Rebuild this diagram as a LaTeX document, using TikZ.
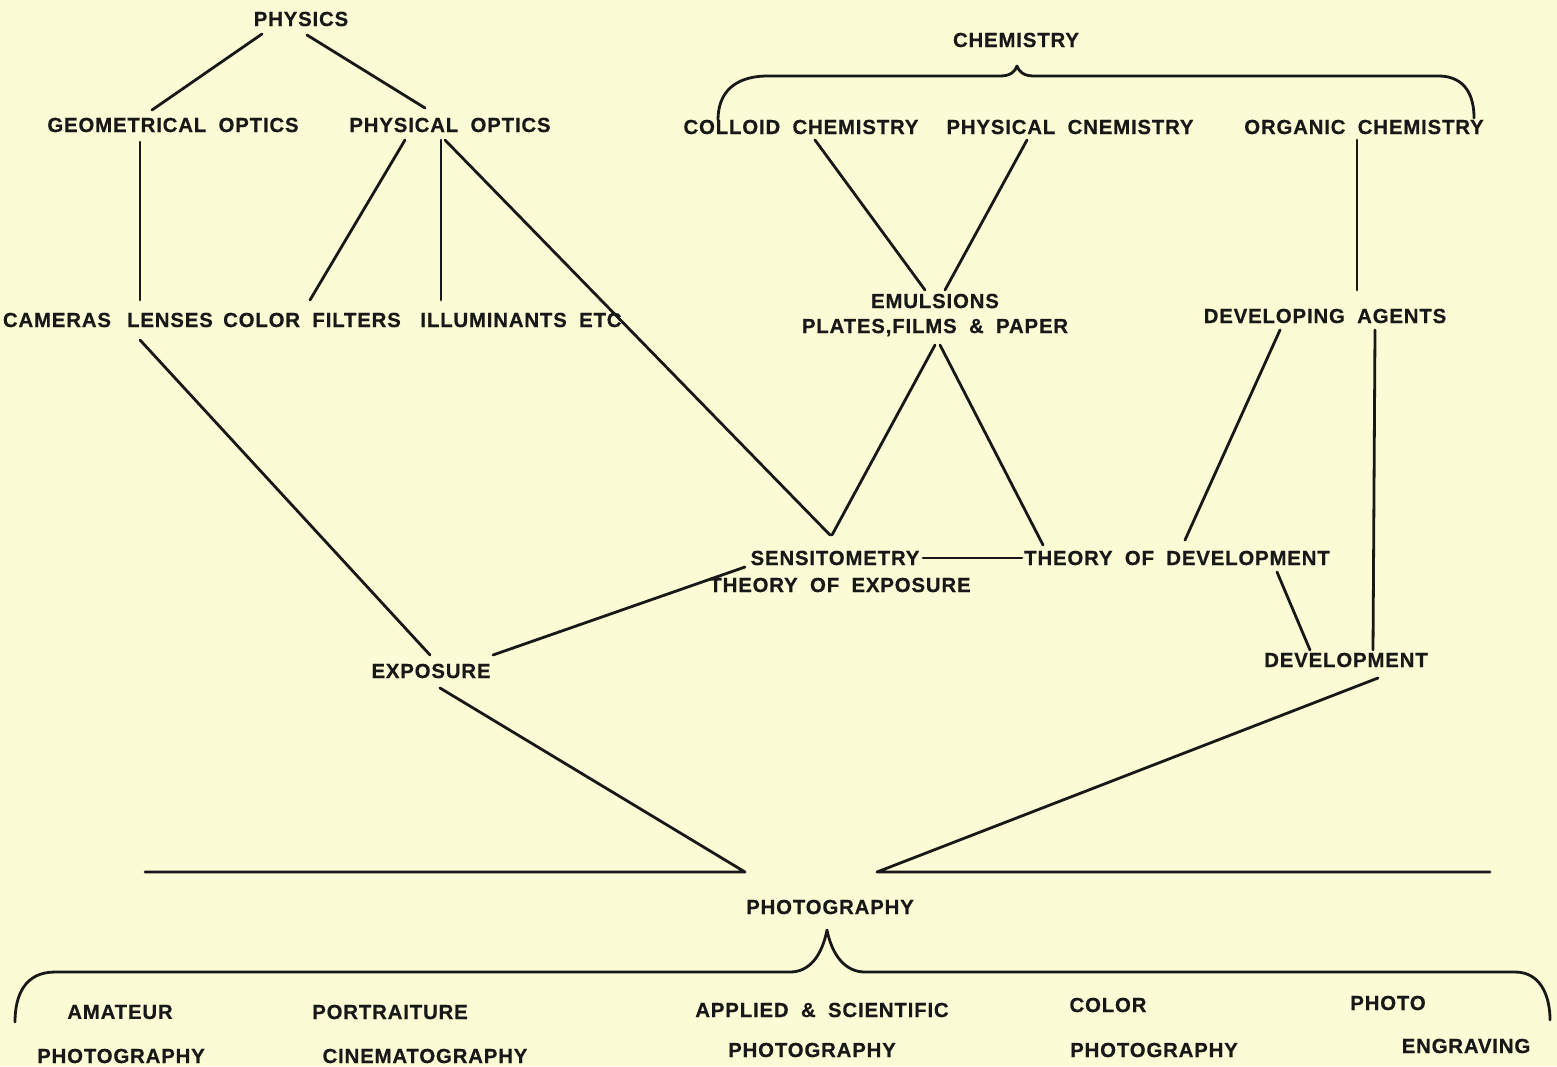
\documentclass[tikz,border=0pt]{standalone}
\usepackage{fontspec}
\setmainfont{Liberation Sans}
\newfontfamily\lblfamily{Liberation Sans}[UprightFont={* Bold}, LetterSpace=4, WordSpace=1.9, FakeBold=0.5]
\usetikzlibrary{calc}
\definecolor{paper}{RGB}{251,251,214}
\definecolor{ink}{RGB}{24,24,24}
\newcommand\lblfont{\lblfamily\fontsize{10.2}{12.5}\selectfont}
\tikzset{
  lbl/.style={font=\lblfont, text=ink, inner sep=0pt, align=center},
  conn/.style={draw=ink, line width=1.4pt, line cap=round, line join=round},
}
\begin{document}
\begin{tikzpicture}[x=0.5pt,y=-0.5pt]
\fill[paper] (0,0) rectangle (1557,1066);
\useasboundingbox (0,0) rectangle (1557,1066);
% nodes
\node[lbl] (physics) at (301,19) {PHYSICS};
\node[lbl] (geo) at (173,125) {GEOMETRICAL OPTICS};
\node[lbl] (phyopt) at (450,125) {PHYSICAL OPTICS};
\node[lbl] (chem) at (1016,40) {CHEMISTRY};
\node[lbl] (colloid) at (801,127) {COLLOID CHEMISTRY};
\node[lbl] (physchem) at (1070,127) {PHYSICAL CNEMISTRY};
\node[lbl] (organic) at (1364,127) {ORGANIC CHEMISTRY};
\node[lbl] (cameras) at (57,320) {CAMERAS};
\node[lbl] (lenses) at (170,320) {LENSES};
\node[lbl] (filters) at (312,320) {COLOR FILTERS};
\node[lbl] (illum) at (521,320) {ILLUMINANTS ETC};
\node[lbl] (emul) at (935,315) {EMULSIONS\\PLATES,FILMS \& PAPER};
\node[lbl] (devagents) at (1325,316) {DEVELOPING AGENTS};
\node[lbl] (sens) at (835,558) {SENSITOMETRY};
\node[lbl] (theoexp) at (840,585) {THEORY OF EXPOSURE};
\node[lbl] (theodev) at (1177,558) {THEORY OF DEVELOPMENT};
\node[lbl] (develop) at (1346,660) {DEVELOPMENT};
\node[lbl] (exposure) at (431,671) {EXPOSURE};
\node[lbl] (photo) at (830,907) {PHOTOGRAPHY};
\node[lbl] (amateur) at (120,1012) {AMATEUR};
\node[lbl] (amateurb) at (121,1056) {PHOTOGRAPHY};
\node[lbl] (portrait) at (390,1012) {PORTRAITURE};
\node[lbl] (cinema) at (425,1056) {CINEMATOGRAPHY};
\node[lbl] (applied) at (822,1010) {APPLIED \& SCIENTIFIC};
\node[lbl] (appliedb) at (812,1050) {PHOTOGRAPHY};
\node[lbl] (color) at (1108,1005) {COLOR};
\node[lbl] (colorb) at (1154,1050) {PHOTOGRAPHY};
\node[lbl] (photoeng) at (1388,1003) {PHOTO};
\node[lbl] (photoengb) at (1466,1046) {ENGRAVING};
% free ends
\coordinate (apexL) at (745,872);
\coordinate (leftend) at (145,872);
\coordinate (apexR) at (877,872);
\coordinate (rightend) at (1490,872);
% connectors
\draw[conn] ($(physics)+(-39,15)$) -- ($(geo)+(-21,-15)$);
\draw[conn] ($(physics)+(6,16)$) -- ($(phyopt)+(-25,-17)$);
\draw[conn] ($(geo)+(-33,17)$) -- ($(lenses)+(-30,-20)$);
\draw[conn] ($(phyopt)+(-45,15)$) -- ($(filters)+(-2,-20)$);
\draw[conn] ($(phyopt)+(-9,15)$) -- ($(illum)+(-80,-20)$);
\draw[conn] ($(phyopt)+(-5,15)$) -- ($(sens)+(-5,-23)$);
\draw[conn] ($(lenses)+(-30,20)$) -- ($(exposure)+(-1,-16)$);
\draw[conn] ($(colloid)+(14,13)$) -- ($(emul)+(-10,-25)$);
\draw[conn] ($(physchem)+(-43,13)$) -- ($(emul)+(10,-25)$);
\draw[conn] ($(organic)+(-7,13)$) -- ($(devagents)+(32,-26)$);
\draw[conn] ($(emul)+(0,30)$) -- ($(sens)+(-3,-23)$);
\draw[conn] ($(emul)+(5,30)$) -- ($(theodev)+(-134,-13)$);
\draw[conn] ($(devagents)+(-45,14)$) -- ($(theodev)+(8,-18)$);
\draw[conn] ($(devagents)+(50,14)$) -- ($(develop)+(27,-10)$);
\draw[conn] ($(sens)+(88,0)$) -- ($(theodev)+(-155,0)$);
\draw[conn] ($(theodev)+(100,14)$) -- ($(develop)+(-36,-10)$);
\draw[conn] ($(exposure)+(62,-16)$) -- ($(sens)+(-90,9)$);
\draw[conn] ($(exposure)+(9,17)$) -- (apexL) -- (leftend);
\draw[conn] ($(develop)+(32,18)$) -- (apexR) -- (rightend);
% chemistry brace
\draw[conn] (718,120) .. controls (718,92) and (735,77) .. (765,76) -- (1000,76)
  .. controls (1010,76) and (1015,72) .. (1017,66)
  .. controls (1019,72) and (1024,76) .. (1034,76) -- (1440,76)
  .. controls (1465,77) and (1474,95) .. (1474,118);
% photography brace
\draw[conn] (15,1022) .. controls (15,995) and (25,972) .. (55,972) -- (790,972)
  .. controls (810,972) and (822,955) .. (827,930)
  .. controls (832,955) and (845,972) .. (865,972) -- (1515,972)
  .. controls (1540,972) and (1550,995) .. (1550,1020);
\end{tikzpicture}
\end{document}
